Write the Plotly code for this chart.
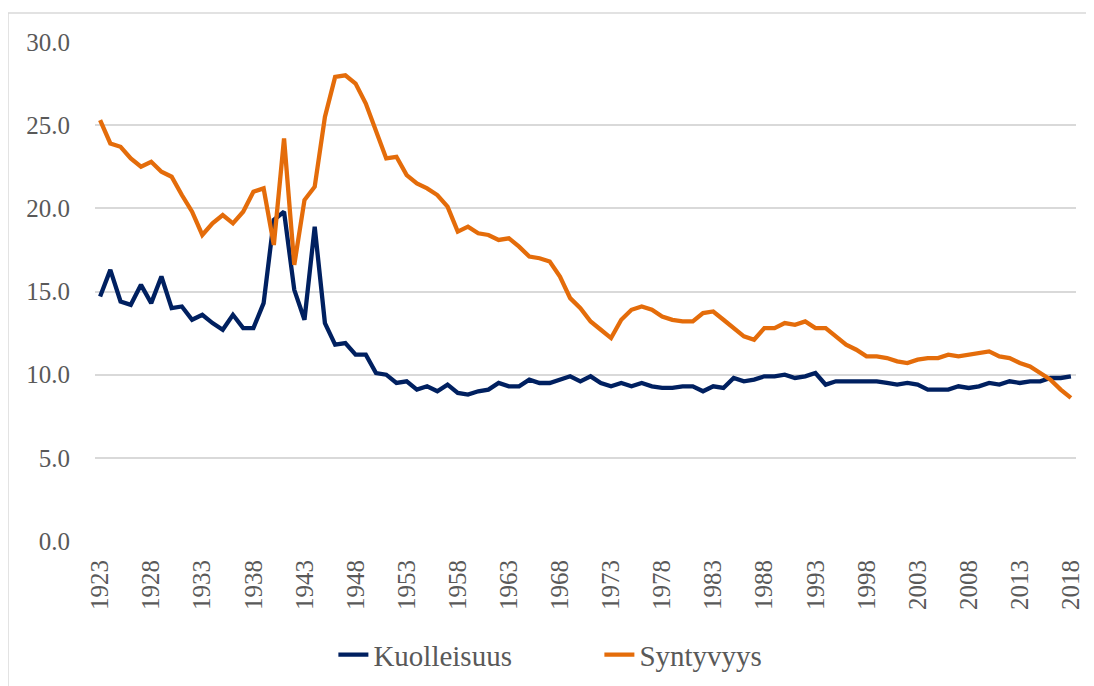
import plotly.graph_objects as go

years = list(range(1923, 2019))

syntyvyys = [25.3, 23.9, 23.7, 23.0, 22.5, 22.8, 22.2, 21.9, 20.8, 19.8,
             18.4, 19.1, 19.6, 19.1, 19.8, 21.0, 21.2, 17.8, 24.2, 16.6,
             20.5, 21.3, 25.5, 27.9, 28.0, 27.5, 26.3, 24.7, 23.0, 23.1,
             22.0, 21.5, 21.2, 20.8, 20.1, 18.6, 18.9, 18.5, 18.4, 18.1,
             18.2, 17.7, 17.1, 17.0, 16.8, 15.9, 14.6, 14.0, 13.2, 12.7,
             12.2, 13.3, 13.9, 14.1, 13.9, 13.5, 13.3, 13.2, 13.2, 13.7,
             13.8, 13.3, 12.8, 12.3, 12.1, 12.8, 12.8, 13.1, 13.0, 13.2,
             12.8, 12.8, 12.3, 11.8, 11.5, 11.1, 11.1, 11.0, 10.8, 10.7,
             10.9, 11.0, 11.0, 11.2, 11.1, 11.2, 11.3, 11.4, 11.1, 11.0,
             10.7, 10.5, 10.1, 9.7, 9.1, 8.6]

kuolleisuus = [14.7, 16.3, 14.4, 14.2, 15.4, 14.3, 15.9, 14.0, 14.1, 13.3,
               13.6, 13.1, 12.7, 13.6, 12.8, 12.8, 14.3, 19.3, 19.8, 15.1,
               13.3, 18.9, 13.1, 11.8, 11.9, 11.2, 11.2, 10.1, 10.0, 9.5,
               9.6, 9.1, 9.3, 9.0, 9.4, 8.9, 8.8, 9.0, 9.1, 9.5,
               9.3, 9.3, 9.7, 9.5, 9.5, 9.7, 9.9, 9.6, 9.9, 9.5,
               9.3, 9.5, 9.3, 9.5, 9.3, 9.2, 9.2, 9.3, 9.3, 9.0,
               9.3, 9.2, 9.8, 9.6, 9.7, 9.9, 9.9, 10.0, 9.8, 9.9,
               10.1, 9.4, 9.6, 9.6, 9.6, 9.6, 9.6, 9.5, 9.4, 9.5,
               9.4, 9.1, 9.1, 9.1, 9.3, 9.2, 9.3, 9.5, 9.4, 9.6,
               9.5, 9.6, 9.6, 9.8, 9.8, 9.9]

x_ticks = list(range(1923, 2019, 5))
y_ticks = [0, 5, 10, 15, 20, 25, 30]

FONT = "Liberation Serif, Times New Roman, serif"
GRAY = "#595959"

fig = go.Figure()
fig.add_trace(go.Scatter(x=years, y=kuolleisuus, mode="lines", name="Kuolleisuus",
                         line=dict(color="#002060", width=4.3)))
fig.add_trace(go.Scatter(x=years, y=syntyvyys, mode="lines", name="Syntyvyys",
                         line=dict(color="#E46C0A", width=4.3)))

fig.update_layout(
    width=1094, height=686,
    margin=dict(l=87, r=26, t=34, b=153, autoexpand=False),
    paper_bgcolor="white", plot_bgcolor="white",
    font=dict(family=FONT, color=GRAY, size=25),
    showlegend=True,
    legend=dict(orientation="h", x=0.243, xanchor="left", y=-0.228, yanchor="middle",
                font=dict(size=29, color=GRAY, family=FONT), bgcolor="rgba(0,0,0,0)",
                entrywidth=221, entrywidthmode="pixels", tracegroupgap=0),
    xaxis=dict(range=[1922.5, 2018.5], tickvals=x_ticks, tickangle=-90,
               showgrid=False, zeroline=False, showline=False, automargin=False,
               ticks="outside", ticklen=8, tickcolor="rgba(0,0,0,0)",
               tickfont=dict(size=25, color=GRAY, family=FONT)),
    yaxis=dict(range=[0, 30], tickvals=y_ticks, tickformat=".1f",
               showgrid=True, gridcolor="#d9d9d9", gridwidth=1.5,
               zeroline=False, showline=False, automargin=False,
               ticks="outside", ticklen=19, tickcolor="rgba(0,0,0,0)",
               tickfont=dict(size=25, color=GRAY, family=FONT)),
    shapes=[dict(type="rect", xref="paper", yref="paper",
                 x0=-0.0887, x1=1.03, y0=-0.31, y1=1.058,
                 line=dict(color="#d9d9d9", width=1.5), fillcolor="rgba(0,0,0,0)",
                 layer="below")],
)

fig.write_html("out.html")
